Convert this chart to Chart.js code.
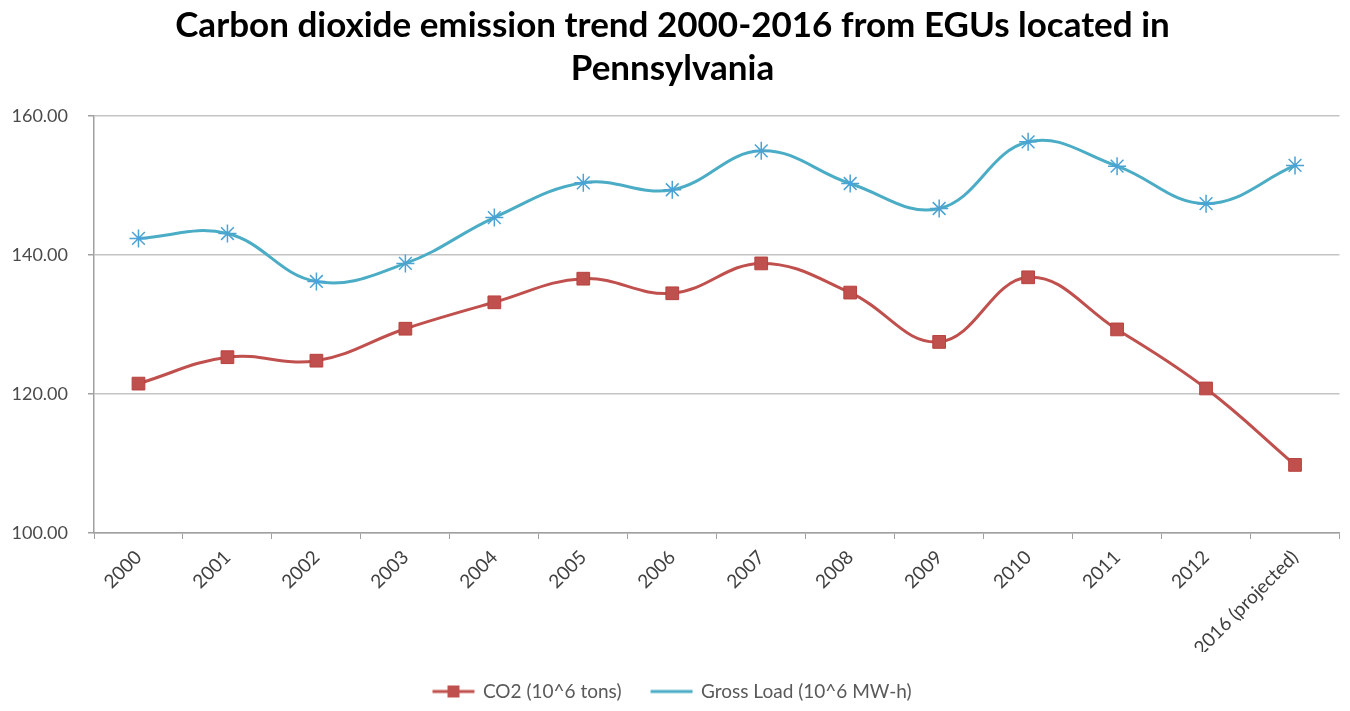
<!DOCTYPE html>
<html>
<head>
<meta charset="utf-8">
<script src="https://cdn.jsdelivr.net/npm/chart.js@4.4.1/dist/chart.umd.min.js"></script>
<style>
  html, body { margin: 0; padding: 0; background: #fff; }
  #wrap { width: 1350px; height: 711px; }
</style>
</head>
<body>
<div id="wrap"><canvas id="emissionChart"></canvas></div>
<script>
// dados
const years = ['2000', '2001', '2002', '2003', '2004', '2005', '2006', '2007', '2008', '2009', '2010', '2011', '2012', '2016 (projected)'];
const co2 = [121.5, 125.3, 124.8, 129.4, 133.2, 136.6, 134.5, 138.8, 134.6, 127.5, 136.8, 129.3, 120.8, 109.8];
const grossLoad = [142.4, 143.1, 136.2, 138.8, 145.4, 150.4, 149.4, 155.0, 150.3, 146.7, 156.3, 152.8, 147.4, 152.9];
const yTicks = [100, 120, 140, 160];

const RED = '#c0504d';
const BLUE = '#4bacc6';
const FONT = 'Lato, "Open Sans", sans-serif';

// ícones da legenda no estilo Excel (linha + marcador)
function legendIcon(color, withSquare) {
  const c = document.createElement('canvas');
  c.width = 44; c.height = 14;
  const g = c.getContext('2d');
  g.strokeStyle = color;
  g.lineWidth = 3;
  g.beginPath(); g.moveTo(1, 7); g.lineTo(43, 7); g.stroke();
  if (withSquare) {
    g.fillStyle = color;
    g.fillRect(16, 1, 12, 12);
  }
  return c;
}

const ctx = document.getElementById('emissionChart').getContext('2d');

new Chart(ctx, {
  type: 'line',
  data: {
    labels: years,
    datasets: [
      {
        label: 'CO2 (10^6 tons)',
        data: co2,
        borderColor: RED,
        backgroundColor: RED,
        borderWidth: 3,
        tension: 0.4,
        pointStyle: 'rect',
        pointRadius: 9,
        pointBorderWidth: 1,
        pointBorderColor: '#b8423f'
      },
      {
        label: 'Gross Load (10^6 MW-h)',
        data: grossLoad,
        borderColor: BLUE,
        backgroundColor: BLUE,
        borderWidth: 3,
        tension: 0.4,
        pointStyle: 'star',
        pointRadius: 9,
        pointBorderWidth: 1.5,
        pointBorderColor: '#4aa3d4'
      }
    ]
  },
  options: {
    responsive: true,
    maintainAspectRatio: false,
    animation: false,
    layout: { padding: { left: 0, right: 5, top: 0, bottom: 0 } },
    plugins: {
      title: {
        display: true,
        text: ['Carbon dioxide emission trend 2000-2016 from EGUs located in', 'Pennsylvania'],
        color: '#000',
        font: { family: FONT, size: 35, weight: 'bold', lineHeight: 1.23 },
        padding: { top: 4, bottom: 26 }
      },
      legend: {
        position: 'bottom',
        labels: {
          color: '#595959',
          font: { family: FONT, size: 19 },
          usePointStyle: true,
          pointStyleWidth: 40,
          boxHeight: 14,
          padding: 30,
          generateLabels: (chart) => chart.data.datasets.map((ds, i) => ({
            text: ds.label,
            fontColor: '#595959',
            pointStyle: legendIcon(ds.borderColor, i === 0),
            datasetIndex: i,
            hidden: false,
            lineWidth: 0
          }))
        }
      },
      tooltip: { enabled: false }
    },
    scales: {
      y: {
        min: 100,
        max: 160,
        afterBuildTicks: (axis) => { axis.ticks = yTicks.map(v => ({ value: v })); },
        afterFit: (axis) => { axis.width = 94; },
        grid: { color: '#c4c4c4', lineWidth: 1.5, tickLength: 6, tickColor: '#a0a0a0' },
        border: { color: '#a0a0a0', width: 1.5 },
        ticks: {
          color: '#4a4a4a',
          padding: 20,
          font: { family: FONT, size: 18 },
          callback: (val) => Number(val).toFixed(2)
        }
      },
      x: {
        offset: true,
        afterFit: (axis) => { axis.height = 119; },
        grid: { offset: true, drawOnChartArea: false, tickLength: 6, color: '#a0a0a0' },
        border: { color: '#a0a0a0', width: 1.5 },
        ticks: {
          color: '#404040',
          minRotation: 45,
          maxRotation: 45,
          autoSkip: false,
          padding: 7,
          font: { family: FONT, size: 19 }
        }
      }
    }
  }
});
</script>
</body>
</html>
